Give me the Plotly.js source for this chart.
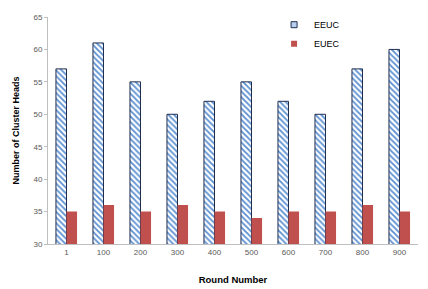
<!DOCTYPE html>
<html><head><meta charset="utf-8">
<script src="https://cdn.plot.ly/plotly-3.0.1.min.js"></script>
<style>html,body{margin:0;padding:0;background:#fff}#c{width:428px;height:289px}</style>
</head><body><div id="c"></div>
<script>
const rounds = ['1','100','200','300','400','500','600','700','800','900'];
const eeuc = [57, 61, 55, 50, 52, 55, 52, 50, 57, 60];
const euec = [35, 36, 35, 36, 35, 34, 35, 35, 36, 35];
const seriesNames = ['EEUC', 'EUEC'];

const data = [
  {type:'bar', name:seriesNames[0], x:rounds, y:eeuc, showlegend:false,
   marker:{color:'#ffffff', line:{color:'#1f2d4f', width:1},
     pattern:{shape:'\\', fgcolor:'#5b8fd0', bgcolor:'#ffffff', size:4, solidity:0.45}}},
  {type:'bar', name:seriesNames[1], x:rounds, y:euec, showlegend:false,
   marker:{color:'#c0504d', line:{width:0}}},
  {type:'scatter', mode:'markers', name:seriesNames[0], x:[null], y:[null], showlegend:true,
   marker:{symbol:'square', size:6, color:'#b9cfee', line:{color:'#1f2d4f', width:1}}},
  {type:'scatter', mode:'markers', name:seriesNames[1], x:[null], y:[null], showlegend:true,
   marker:{symbol:'square', size:6, color:'#c0504d', line:{width:0}}}
];
const layout = {
  width:428, height:289,
  margin:{l:48, r:10, t:15, b:45},
  paper_bgcolor:'#fff', plot_bgcolor:'#fff',
  barmode:'group', bargap:0.43, bargroupgap:0,
  font:{family:'Liberation Sans, Arial, sans-serif', size:8, color:'#595959'},
  xaxis:{type:'category', showline:true, linecolor:'#bfbfbf', linewidth:1,
    ticks:'', tickfont:{size:8, color:'#595959'},
    title:{text:'Round Number', font:{size:9.5, color:'#000', weight:'bold'}, standoff:20}},
  yaxis:{range:[30,65], dtick:5, showgrid:false, zeroline:false, showline:true,
    linecolor:'#bfbfbf', linewidth:1, ticks:'outside', ticklen:3, tickcolor:'#bfbfbf',
    tickfont:{size:8, color:'#595959'},
    title:{text:'Number of Cluster Heads', font:{size:9, color:'#000', weight:'bold'}, standoff:12}},
  legend:{x:0.611, y:1.03, xanchor:'left', yanchor:'top', font:{size:9, color:'#000'},
    itemwidth:30, bgcolor:'rgba(0,0,0,0)', tracegroupgap:4},
  showlegend:true
};
Plotly.newPlot('c', data, layout, {displayModeBar:false, staticPlot:true});
</script></body></html>
